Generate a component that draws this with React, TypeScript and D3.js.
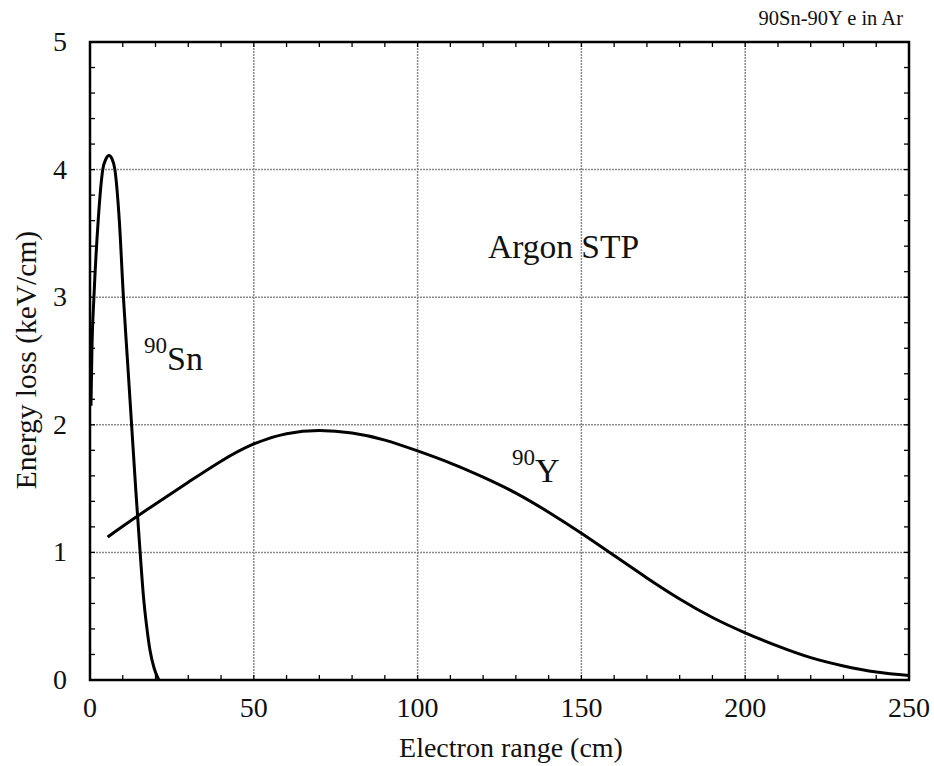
import React from "react";
import * as d3 from "d3";

const xTicks = [0, 50, 100, 150, 200, 250];
const yTicks = [0, 1, 2, 3, 4, 5];

const snX = [0.3, 0.6, 1.2, 2.5, 3.9, 4.9, 5.8, 6.7, 7.6, 8.95, 10.2, 11.45, 12.7, 14.0, 15.3, 16.3, 17.3, 18.3, 19.6, 21.0];
const snY = [2.15, 2.6, 3.0, 3.6, 4.0, 4.085, 4.11, 4.085, 4.0, 3.6, 3.0, 2.5, 2.0, 1.48, 1.0, 0.66, 0.42, 0.235, 0.09, 0.0];

const yX = [5.4, 10, 20, 30, 40, 50, 60, 70, 80, 90, 100, 110, 120, 130, 140, 150, 160, 170, 180, 190, 200, 210, 220, 230, 240, 250];
const yY = [1.12, 1.205, 1.38, 1.55, 1.715, 1.85, 1.93, 1.955, 1.935, 1.88, 1.795, 1.7, 1.59, 1.465, 1.315, 1.15, 0.975, 0.8, 0.635, 0.49, 0.37, 0.265, 0.175, 0.11, 0.062, 0.035];

export default function App() {
  const W = 934, H = 766;
  const L = 90, R = 909, T = 42, B = 680;
  const x = d3.scaleLinear().domain([0, 250]).range([L, R]);
  const y = d3.scaleLinear().domain([0, 5]).range([B, T]);
  const snLine = d3.line<[number, number]>().x(d => x(d[0])).y(d => y(d[1])).curve(d3.curveMonotoneX);
  const yLine = d3.line<[number, number]>().x(d => x(d[0])).y(d => y(d[1])).curve(d3.curveNatural);
  const sn = snLine(snX.map((v, i) => [v, snY[i]]) as [number, number][]) || "";
  const yy = yLine(yX.map((v, i) => [v, yY[i]]) as [number, number][]) || "";
  const xMinor = d3.range(0, 251, 10);
  const yMinor = d3.range(0, 5.001, 0.2);
  const font = "'Liberation Serif', 'Times New Roman', serif";
  return (
    <svg width={W} height={H} style={{ position: "absolute", left: 0, top: 0, background: "#fff" }} fontFamily={font}>
      <rect x={0} y={0} width={W} height={H} fill="#fff" />
      {xTicks.slice(1, -1).map(t => (
        <line key={"gx" + t} x1={x(t)} x2={x(t)} y1={T} y2={B} stroke="#8a8a8a" strokeWidth={1.5} strokeDasharray="2,1" />
      ))}
      {yTicks.slice(1, -1).map(t => (
        <line key={"gy" + t} x1={L} x2={R} y1={y(t)} y2={y(t)} stroke="#8a8a8a" strokeWidth={1.5} strokeDasharray="2,1" />
      ))}
      {xMinor.map(t => (
        <g key={"xm" + t}>
          <line x1={x(t)} x2={x(t)} y1={B} y2={B - 5} stroke="#000" strokeWidth={1.3} />
          <line x1={x(t)} x2={x(t)} y1={T} y2={T + 5} stroke="#000" strokeWidth={1.3} />
        </g>
      ))}
      {yMinor.map(t => (
        <g key={"ym" + t}>
          <line x1={L} x2={L + 5} y1={y(t)} y2={y(t)} stroke="#000" strokeWidth={1.3} />
          <line x1={R} x2={R - 5} y1={y(t)} y2={y(t)} stroke="#000" strokeWidth={1.3} />
        </g>
      ))}
      <rect x={L} y={T} width={R - L} height={B - T} fill="none" stroke="#000" strokeWidth={2.5} />
      <path d={sn} fill="none" stroke="#000" strokeWidth={3} strokeLinejoin="round" />
      <path d={yy} fill="none" stroke="#000" strokeWidth={3} strokeLinejoin="round" />
      {xTicks.map(t => (
        <text key={"xl" + t} x={x(t)} y={717} textAnchor="middle" fontSize={28} fill="#111">{t}</text>
      ))}
      {yTicks.map(t => (
        <text key={"yl" + t} x={67} y={y(t) + 9} textAnchor="end" fontSize={28} fill="#111">{t}</text>
      ))}
      <text x={511} y={757} textAnchor="middle" fontSize={28} fill="#111">Electron range (cm)</text>
      <text transform={`translate(36,${360}) rotate(-90)`} textAnchor="middle" fontSize={29.5} fill="#111">Energy loss (keV/cm)</text>
      <text x={903} y={25} textAnchor="end" fontSize={20.5} fill="#111">90Sn-90Y e in Ar</text>
      <text x={488} y={258} fontSize={33.5} fill="#111">Argon STP</text>
      <text x={144} y={370} fontSize={34} fill="#111"><tspan fontSize={23} dy={-17}>90</tspan><tspan dy={17}>Sn</tspan></text>
      <text x={512} y={482} fontSize={34} fill="#111"><tspan fontSize={23} dy={-17}>90</tspan><tspan dy={17}>Y</tspan></text>
    </svg>
  );
}
